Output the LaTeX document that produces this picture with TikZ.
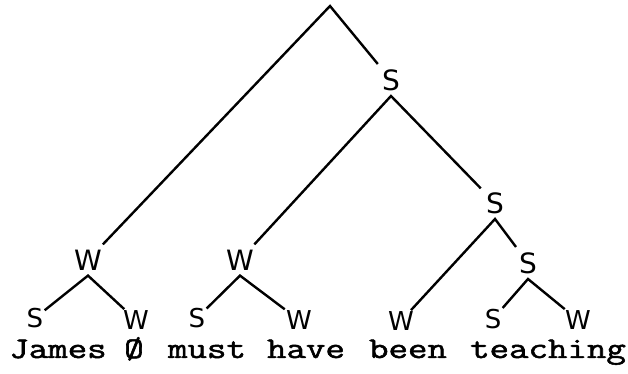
\documentclass[tikz,border=0pt]{standalone}
\usepackage{amsmath}
\usepackage{fontspec}
\usepackage{tikz}
\usetikzlibrary{positioning}
\newfontfamily\typefont{Latin Modern Mono}[FakeBold=1.6]
\newfontfamily\markfont{DejaVu Sans}

\begin{document}
\begin{tikzpicture}[x=0.5pt,y=-0.5pt,
  lab/.style={font=\markfont\fontsize{14}{14}\selectfont, inner sep=2.5pt},
  leaf/.style={lab, font=\markfont\fontsize{13}{13}\selectfont, inner sep=0.5pt},
  word/.style={font=\typefont\fontsize{15}{18}\selectfont, inner sep=0pt, anchor=base, xscale=1.26, transform shape},
  br/.style={line width=1.2pt}]
\useasboundingbox (0,0) rectangle (628,374);
% top and inner nodes
\coordinate (root) at (330,6);
\node[lab] (s1) at (391,80) {S};
\node[lab] (s2) at (495,203) {S};
\node[lab] (w1) at (88,260) {W};
\node[lab] (w2) at (240,260) {W};
\node[lab] (s3) at (528,263) {S};
% leaves
\node[leaf] (ja) at (35,318) {S};
\node[leaf] (zr) at (136,320) {W};
\node[leaf] (mu) at (197,318) {S};
\node[leaf] (ha) at (299,320) {W};
\node[leaf] (be) at (401,321) {W};
\node[leaf] (te) at (493,319) {S};
\node[leaf] (ing) at (578,320) {W};
% words
\node[word] (james) at (58,358) {James};
\node[word] (zero) at (134,358) {Ø};
\node[word] (must) at (207,358) {must};
\node[word] (have) at (306,358) {have};
\node[word] (been) at (408,358) {been};
\node[word] (teaching) at (548,358) {teaching};
% branches
\draw[br] (w1) -- (root) -- (s1);
\draw[br] (w2) -- (s1.south) -- (s2);
\draw[br] (be) -- (s2.south) -- (s3);
\draw[br] (ja) -- (w1.south) -- (zr);
\draw[br] (mu) -- (w2.south) -- (ha);
\draw[br] (te) -- (s3.south) -- (ing);
\end{tikzpicture}
\end{document}
